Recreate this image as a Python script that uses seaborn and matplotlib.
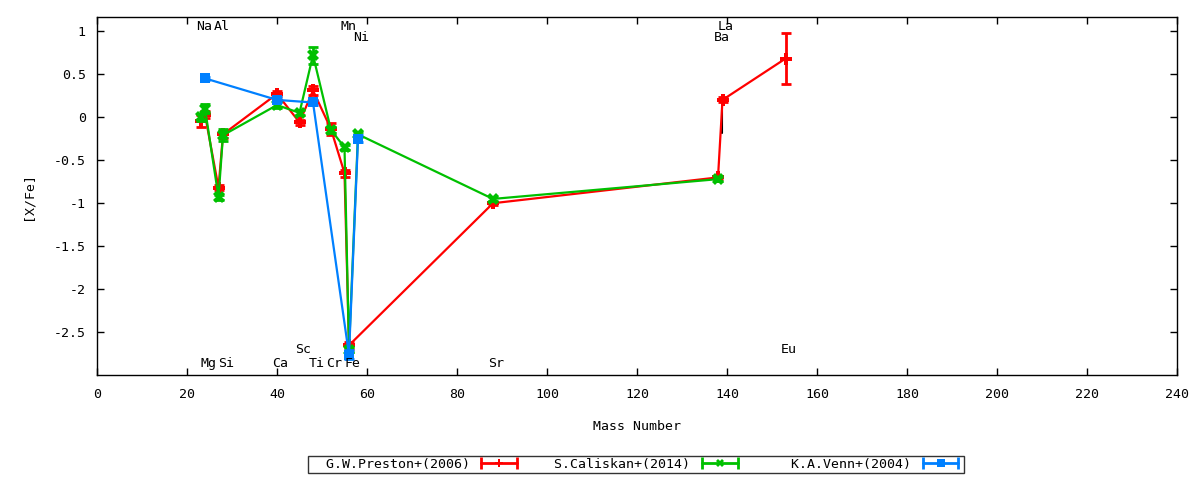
import matplotlib
matplotlib.use("Agg")
import matplotlib.pyplot as plt
import seaborn as sns
import pandas as pd
from matplotlib.lines import Line2D
from matplotlib.legend_handler import HandlerLine2D, HandlerTuple

# ---------------- data ----------------
preston_mass = [23, 24, 27, 28, 40, 45, 48, 52, 55, 56, 88, 138, 139, 153]
preston_xfe = [-0.05, 0.03, -0.82, -0.20, 0.27, -0.06, 0.31, -0.14, -0.65, -2.65, -1.00, -0.70, 0.20, 0.68]
preston_err = [0.07, 0.04, 0.03, 0.04, 0.03, 0.03, 0.05, 0.07, 0.04, 0.04, 0.02, 0.02, 0.03, 0.30]

caliskan_mass = [23, 24, 27, 28, 40, 45, 48, 52, 55, 56, 58, 88, 138]
caliskan_xfe = [0.00, 0.10, -0.93, -0.21, 0.14, 0.05, 0.72, -0.15, -0.35, -2.70, -0.20, -0.95, -0.72]
caliskan_err = [0.04, 0.05, 0.03, 0.07, 0.03, 0.03, 0.10, 0.04, 0.03, 0.03, 0.03, 0.02, 0.02]

venn_mass = [24, 40, 48, 56, 58]
venn_xfe = [0.45, 0.20, 0.17, -2.76, -0.25]
venn_err = [0.02, 0.03, 0.03, 0.05, 0.04]

extra_mass = [138.9, 138.9]
extra_xfe = [0.08, -0.19]

series_names = ["G.W.Preston+(2006)", "S.Caliskan+(2014)", "K.A.Venn+(2004)"]
series_colors = ["#ff0000", "#00c000", "#0080ff"]
series_markers = ["P", "X", "s"]

elements = ["Na", "Mg", "Al", "Si", "Ca", "Sc", "Ti", "Cr", "Mn", "Fe", "Ni", "Sr", "Ba", "La", "Eu"]
element_mass = [23, 24, 27, 28, 40, 45, 48, 52, 55, 56, 58, 88, 138, 139, 153]
element_row = ["t1", "b1", "t1", "b1", "b1", "b2", "b1", "b1", "t1", "b1", "t2", "b1", "t2", "t1", "b2"]

# ---------------- style ----------------
sns.set_theme(style="white")
plt.rcParams['font.family'] = ['DejaVu Sans Mono', 'DejaVu Sans']
for k in ['text.color', 'axes.labelcolor', 'xtick.color', 'ytick.color', 'axes.edgecolor']:
    plt.rcParams[k] = 'black'
FS = 9.5

fig = plt.figure(figsize=(12, 4.8), dpi=100)
ax = fig.add_axes([97 / 1200, 1 - 375 / 480, (1177 - 97) / 1200, (375 - 17) / 480])

datasets = [
    (preston_mass, preston_xfe, preston_err),
    (caliskan_mass, caliskan_xfe, caliskan_err),
    (venn_mass, venn_xfe, venn_err),
]
msizes = [8, 8, 7.5]
for i, ((mx, my, me), name, col, mk) in enumerate(zip(datasets, series_names, series_colors, series_markers)):
    df = pd.DataFrame({"mass": mx, "xfe": my})
    sns.lineplot(data=df, x="mass", y="xfe", ax=ax, color=col, lw=1.6, sort=False,
                 estimator=None, marker=mk, markersize=msizes[i], markeredgewidth=0,
                 zorder=2 + i, legend=False)
    ax.errorbar(mx, my, yerr=me, fmt='none', ecolor=col, elinewidth=2, capsize=3.5,
                capthick=2, zorder=2 + i)

ax.plot(extra_mass, extra_xfe, color='black', lw=1.5, zorder=1.5)

# element labels
row_y = {"t1": 1.05, "t2": 0.93, "b1": -2.86, "b2": -2.70}
for el, m, r in zip(elements, element_mass, element_row):
    ax.text(m + 0.8, row_y[r], el, ha='center', va='center', fontsize=FS, zorder=6)

ax.set_xlim(0, 240)
ax.set_ylim(-2.995, 1.163)
ax.set_xticks(range(0, 241, 20))
ax.set_yticks([-2.5, -2, -1.5, -1, -0.5, 0, 0.5, 1])
ax.set_yticklabels(["-2.5", "-2", "-1.5", "-1", "-0.5", "0", "0.5", "1"])
ax.tick_params(direction='in', top=True, right=True, bottom=True, left=True,
               length=5, width=1, labelsize=FS)
ax.tick_params(axis='y', pad=8)
ax.tick_params(axis='x', pad=9)
for s in ax.spines.values():
    s.set_linewidth(1)
    s.set_color('black')
ax.set_xlabel("Mass Number", fontsize=FS, labelpad=14)
ax.set_ylabel("[X/Fe]", fontsize=FS, labelpad=14)
ax.grid(False)

# legend
handles = []
hmap = {}
for col, mk, ms in zip(series_colors, series_markers, msizes):
    cap = Line2D([], [], color=col, lw=2, marker='|', markersize=8, mew=2)
    mark = Line2D([], [], color=col, ls='none', marker=mk, markersize=ms * 0.8, mew=0)
    hmap[cap] = HandlerLine2D(numpoints=2)
    hmap[mark] = HandlerLine2D(numpoints=1)
    handles.append((cap, mark))
hmap[tuple] = HandlerTuple(ndivide=1)
labels = [n.rjust(20) for n in series_names]
leg = fig.legend(handles, labels, handler_map=hmap, loc='center', bbox_to_anchor=(636 / 1200, 1 - 464.5 / 480),
                 ncol=3, markerfirst=False, frameon=True, fancybox=False, fontsize=FS,
                 handlelength=3.3, handletextpad=0.6, columnspacing=0.7, borderpad=0.15,
                 borderaxespad=0)
leg.get_frame().set_edgecolor('black')
leg.get_frame().set_linewidth(1)

fig.savefig("out.png", dpi=100)
